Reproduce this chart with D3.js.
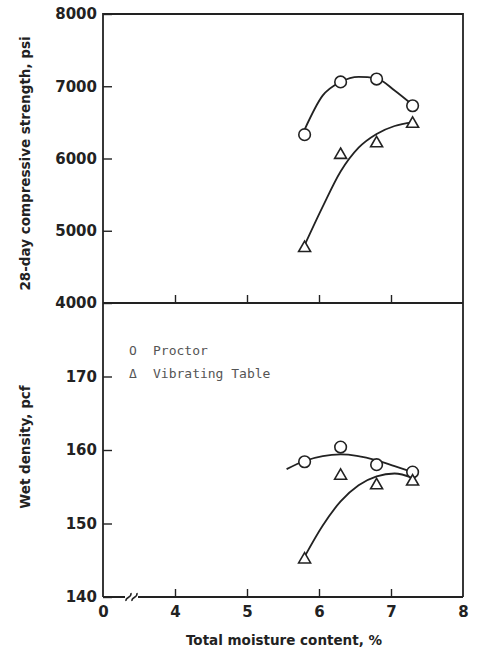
<!DOCTYPE html>
<html lang="en">
<head>
    <meta charset="UTF-8">
    <script src="https://d3js.org/d3.v7.min.js"></script>
    <title>Strength and density vs moisture</title>
    <style>
        body { margin: 0; background: #fff; }
        .tick text { font-family: "DejaVu Sans", sans-serif; font-weight: bold; font-size: 15px; fill: #222; }
        .domain { display: none; }
        .tick line { stroke: #222; stroke-width: 1.4px; }
        .frame { fill: none; stroke: #222; stroke-width: 1.8px; }
        .title { font-family: "DejaVu Sans", sans-serif; font-weight: bold; font-size: 13.5px; fill: #222; }
        .legend { font-family: "DejaVu Sans Mono", monospace; font-size: 13px; fill: #555; }
        .fit { fill: none; stroke: #222; stroke-width: 1.8px; }
        .mark { fill: #fff; stroke: #222; stroke-width: 1.6px; }
    </style>
</head>
<body>
<script>
    // moisture content (%) of the test points
    const moisture = [5.8, 6.3, 6.8, 7.3];

    // 28-day compressive strength, psi
    const strengthProctor = [6330, 7060, 7100, 6730];
    const strengthVibrating = [4760, 6050, 6210, 6480];

    // wet density, pcf
    const densityProctor = [158.4, 160.4, 158.0, 157.0];
    const densityVibrating = [145.1, 156.5, 155.2, 155.7];

    // hand-drawn fit curves as [moisture, value]
    const strengthProctorCurve = [[5.8, 6400], [6.05, 6870], [6.3, 7060], [6.55, 7130], [6.8, 7110], [7.05, 6940], [7.3, 6740]];
    const strengthVibratingCurve = [[5.8, 4800], [6.05, 5330], [6.3, 5820], [6.55, 6150], [6.8, 6340], [7.05, 6450], [7.3, 6500]];
    const densityProctorCurve = [[5.55, 157.4], [5.8, 158.5], [6.3, 159.4], [6.8, 158.6], [7.05, 157.8], [7.3, 157.0]];
    const densityVibratingCurve = [[5.8, 145.5], [6.05, 149.7], [6.3, 153.0], [6.55, 155.2], [6.8, 156.4], [7.05, 156.8], [7.3, 156.2]];

    const xTicks = [3, 4, 5, 6, 7, 8];
    const strengthTicks = [4000, 5000, 6000, 7000, 8000];
    const densityTicks = [140, 150, 160, 170];

    const width = 477, height = 653;
    const pLeft = 103, pRight = 463, pTop = 14, pMid = 303, pBottom = 597;

    const svg = d3.select("body").append("svg")
        .attr("width", width)
        .attr("height", height);

    const x = d3.scaleLinear().domain([3, 8]).range([pLeft, pRight]);
    const yTop = d3.scaleLinear().domain([4000, 8000]).range([pMid, pTop]);
    const yBot = d3.scaleLinear().domain([140, 180]).range([pBottom, pMid]);

    // y axes, ticks pointing inward
    svg.append("g")
        .attr("transform", `translate(${pLeft},0)`)
        .call(d3.axisLeft(yTop).tickValues(strengthTicks).tickSizeInner(-9).tickSizeOuter(0).tickPadding(6).tickFormat(d3.format("d")));

    svg.append("g")
        .attr("transform", `translate(${pLeft},0)`)
        .call(d3.axisLeft(yBot).tickValues(densityTicks).tickSizeInner(-9).tickSizeOuter(0).tickPadding(6).tickFormat(d3.format("d")));

    // x ticks on the middle line and on the bottom line, pointing up
    [pMid, pBottom].forEach(yy => {
        svg.append("g")
            .attr("transform", `translate(0,${yy})`)
            .call(d3.axisBottom(x).tickValues([4, 5, 6, 7]).tickSizeInner(-8).tickSizeOuter(0).tickFormat(""));
    });

    // x labels (left end stands for 0, axis is broken)
    svg.append("g")
        .attr("transform", `translate(0,${pBottom})`)
        .call(d3.axisBottom(x).tickValues(xTicks).tickSize(0).tickPadding(9).tickFormat(d => d === 3 ? "0" : d));

    // frame
    svg.append("path").attr("class", "frame")
        .attr("d", `M${pLeft},${pBottom}V${pTop}H${pRight}V${pBottom}`);
    svg.append("line").attr("class", "frame")
        .attr("x1", pLeft).attr("x2", pRight).attr("y1", pMid).attr("y2", pMid);
    svg.append("path").attr("class", "frame")
        .attr("d", `M${pLeft},${pBottom}H${pLeft + 22}M${pLeft + 35},${pBottom}H${pRight}`);
    // break marks
    const brk = svg.append("g").attr("transform", `translate(${pLeft + 23},${pBottom})`);
    [0, 6].forEach(dx => {
        brk.append("path").attr("class", "frame").style("stroke-width", "1.5px")
            .attr("d", `M${dx},4 C${dx - 1},0 ${dx + 6},1 ${dx + 5},-4`);
    });

    // axis titles
    svg.append("text").attr("class", "title")
        .attr("transform", `translate(25,${(pTop + pMid) / 2 + 5}) rotate(-90)`)
        .attr("text-anchor", "middle").attr("dy", "0.35em")
        .text("28-day compressive strength, psi");
    svg.append("text").attr("class", "title")
        .attr("transform", `translate(25,447) rotate(-90)`)
        .attr("text-anchor", "middle").attr("dy", "0.35em")
        .text("Wet density, pcf");
    svg.append("text").attr("class", "title")
        .attr("x", 284).attr("y", 645)
        .attr("text-anchor", "middle")
        .text("Total moisture content, %");

    // fitted curves
    const curve = yScale => d3.line().x(d => x(d[0])).y(d => yScale(d[1])).curve(d3.curveMonotoneX);
    svg.append("path").attr("class", "fit").attr("d", curve(yTop)(strengthProctorCurve));
    svg.append("path").attr("class", "fit").attr("d", curve(yTop)(strengthVibratingCurve));
    svg.append("path").attr("class", "fit").attr("d", curve(yBot)(densityProctorCurve));
    svg.append("path").attr("class", "fit").attr("d", curve(yBot)(densityVibratingCurve));

    // markers
    function circles(vals, yScale) {
        svg.append("g").selectAll("circle")
            .data(d3.zip(moisture, vals))
            .join("circle").attr("class", "mark")
            .attr("cx", d => x(d[0])).attr("cy", d => yScale(d[1])).attr("r", 5.8);
    }
    function triangles(vals, yScale) {
        const tri = d3.symbol().type(d3.symbolTriangle).size(62);
        svg.append("g").selectAll("path")
            .data(d3.zip(moisture, vals))
            .join("path").attr("class", "mark")
            .attr("transform", d => `translate(${x(d[0])},${yScale(d[1])})`)
            .attr("d", tri);
    }
    circles(strengthProctor, yTop);
    triangles(strengthVibrating, yTop);
    circles(densityProctor, yBot);
    triangles(densityVibrating, yBot);

    // legend
    const legend = [["O", "Proctor"], ["Δ", "Vibrating Table"]];
    legend.forEach((d, i) => {
        const yy = 355 + i * 23;
        svg.append("text").attr("class", "legend").attr("x", 129).attr("y", yy).text(d[0]);
        svg.append("text").attr("class", "legend").attr("x", 153).attr("y", yy).text(d[1]);
    });
</script>
</body>
</html>
